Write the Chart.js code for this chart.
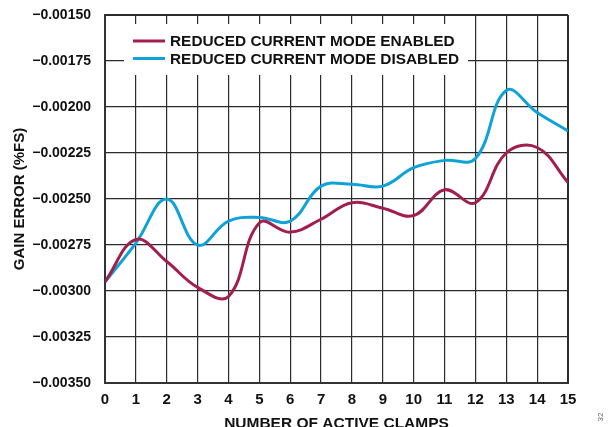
<!DOCTYPE html>
<html>
<head>
<meta charset="utf-8">
<title>Gain Error vs Number of Active Clamps</title>
<script src="https://cdn.jsdelivr.net/npm/chart.js@4"></script>
<style>
  html, body { margin: 0; padding: 0; background: #fff; }
  #wrap { width: 611px; height: 427px; }
</style>
</head>
<body>
<div id="wrap"><canvas id="gainChart" width="611" height="427"></canvas></div>
<script>
// ── Data ──
const clamps = [0, 1, 2, 3, 4, 5, 6, 7, 8, 9, 10, 11, 12, 13, 14, 15];
const enabledGain = [-0.00295, -0.00272, -0.00284, -0.00298, -0.00303, -0.00263, -0.00268, -0.00261,
                     -0.00252, -0.00255, -0.00259, -0.00245, -0.00252, -0.00225, -0.00222, -0.00241];
const disabledGain = [-0.00295, -0.00274, -0.00250, -0.00275, -0.00262, -0.00260, -0.00262, -0.00243,
                      -0.00242, -0.00243, -0.00233, -0.00229, -0.00228, -0.00191, -0.00203, -0.00213];
const yTickValues = [-0.0035, -0.00325, -0.003, -0.00275, -0.0025, -0.00225, -0.002, -0.00175, -0.0015];
const xTickValues = clamps;
const seriesLabels = ['REDUCED CURRENT MODE ENABLED', 'REDUCED CURRENT MODE DISABLED'];

const RED = '#a21f4c';
const BLUE = '#0ea2d8';
const GRID = '#2b2b2b';
const FONT = 'Liberation Sans, Arial, sans-serif';

const toPoints = arr => arr.map((v, i) => ({ x: clamps[i], y: v }));

// ── Legend drawn as a white box inside the plot ──
const boxLegend = {
  id: 'boxLegend',
  beforeDatasetsDraw(chart) {
    const { ctx } = chart;
    ctx.save();
    ctx.fillStyle = '#fff';
    ctx.fillRect(124, 24, 344, 51);
    ctx.font = 'bold 15.4px ' + FONT;
    ctx.textBaseline = 'middle';
    chart.data.datasets.forEach((ds, i) => {
      const y = 41 + i * 17.5;
      ctx.strokeStyle = ds.borderColor;
      ctx.lineWidth = 3;
      ctx.beginPath();
      ctx.moveTo(133, y);
      ctx.lineTo(165, y);
      ctx.stroke();
      ctx.fillStyle = '#111';
      ctx.fillText(ds.label, 170, y + 1);
    });
    ctx.restore();
  }
};

// ── Figure number in the corner ──
const figNum = {
  id: 'figNum',
  afterDraw(chart) {
    const { ctx } = chart;
    ctx.save();
    ctx.translate(601, 417);
    ctx.rotate(-Math.PI / 2);
    ctx.font = '8px ' + FONT;
    ctx.fillStyle = '#666';
    ctx.textAlign = 'center';
    ctx.textBaseline = 'middle';
    ctx.fillText('32', 0, 0);
    ctx.restore();
  }
};

const edgeWidth = c => (c.index === 0 || c.index === c.chart.scales[c.scale.id].ticks.length - 1) ? 2 : 1.2;

new Chart(document.getElementById('gainChart'), {
  type: 'line',
  data: {
    datasets: [
      { label: seriesLabels[0], data: toPoints(enabledGain), borderColor: RED, borderWidth: 3, pointRadius: 0, tension: 0.4, fill: false },
      { label: seriesLabels[1], data: toPoints(disabledGain), borderColor: BLUE, borderWidth: 3, pointRadius: 0, tension: 0.4, fill: false }
    ]
  },
  options: {
    responsive: false,
    animation: false,
    layout: { padding: { top: 15, right: 43, bottom: 0, left: 0 } },
    plugins: { legend: { display: false }, tooltip: { enabled: false } },
    scales: {
      x: {
        type: 'linear', min: 0, max: 15,
        afterBuildTicks: s => { s.ticks = xTickValues.map(v => ({ value: v })); },
        afterFit: s => { s.height = 44; s.paddingLeft = 0; s.paddingRight = 0; },
        grid: { color: GRID, lineWidth: edgeWidth, drawTicks: false },
        border: { color: '#333', width: 2 },
        ticks: { color: '#111', padding: 8, font: { family: FONT, size: 15, weight: 'bold' } },
        title: { display: true, text: 'NUMBER OF ACTIVE CLAMPS', color: '#111',
                 padding: { top: 0, bottom: -6 }, font: { family: FONT, size: 15.5, weight: 'bold' } }
      },
      y: {
        min: -0.0035, max: -0.0015,
        afterBuildTicks: s => { s.ticks = yTickValues.map(v => ({ value: v })); },
        afterFit: s => { s.width = 105; s.paddingTop = 0; s.paddingBottom = 0; },
        grid: { color: GRID, lineWidth: edgeWidth, drawTicks: false },
        border: { color: '#333', width: 2 },
        ticks: {
          color: '#111', padding: 14,
          font: { family: FONT, size: 14, weight: 'bold' },
          callback: v => '\u2212' + Math.abs(v).toFixed(5)
        },
        title: { display: true, text: 'GAIN ERROR (%FS)', color: '#111',
                 padding: { top: 11, bottom: 0 }, font: { family: FONT, size: 15, weight: 'bold' } }
      }
    }
  },
  plugins: [boxLegend, figNum]
});
</script>
</body>
</html>
